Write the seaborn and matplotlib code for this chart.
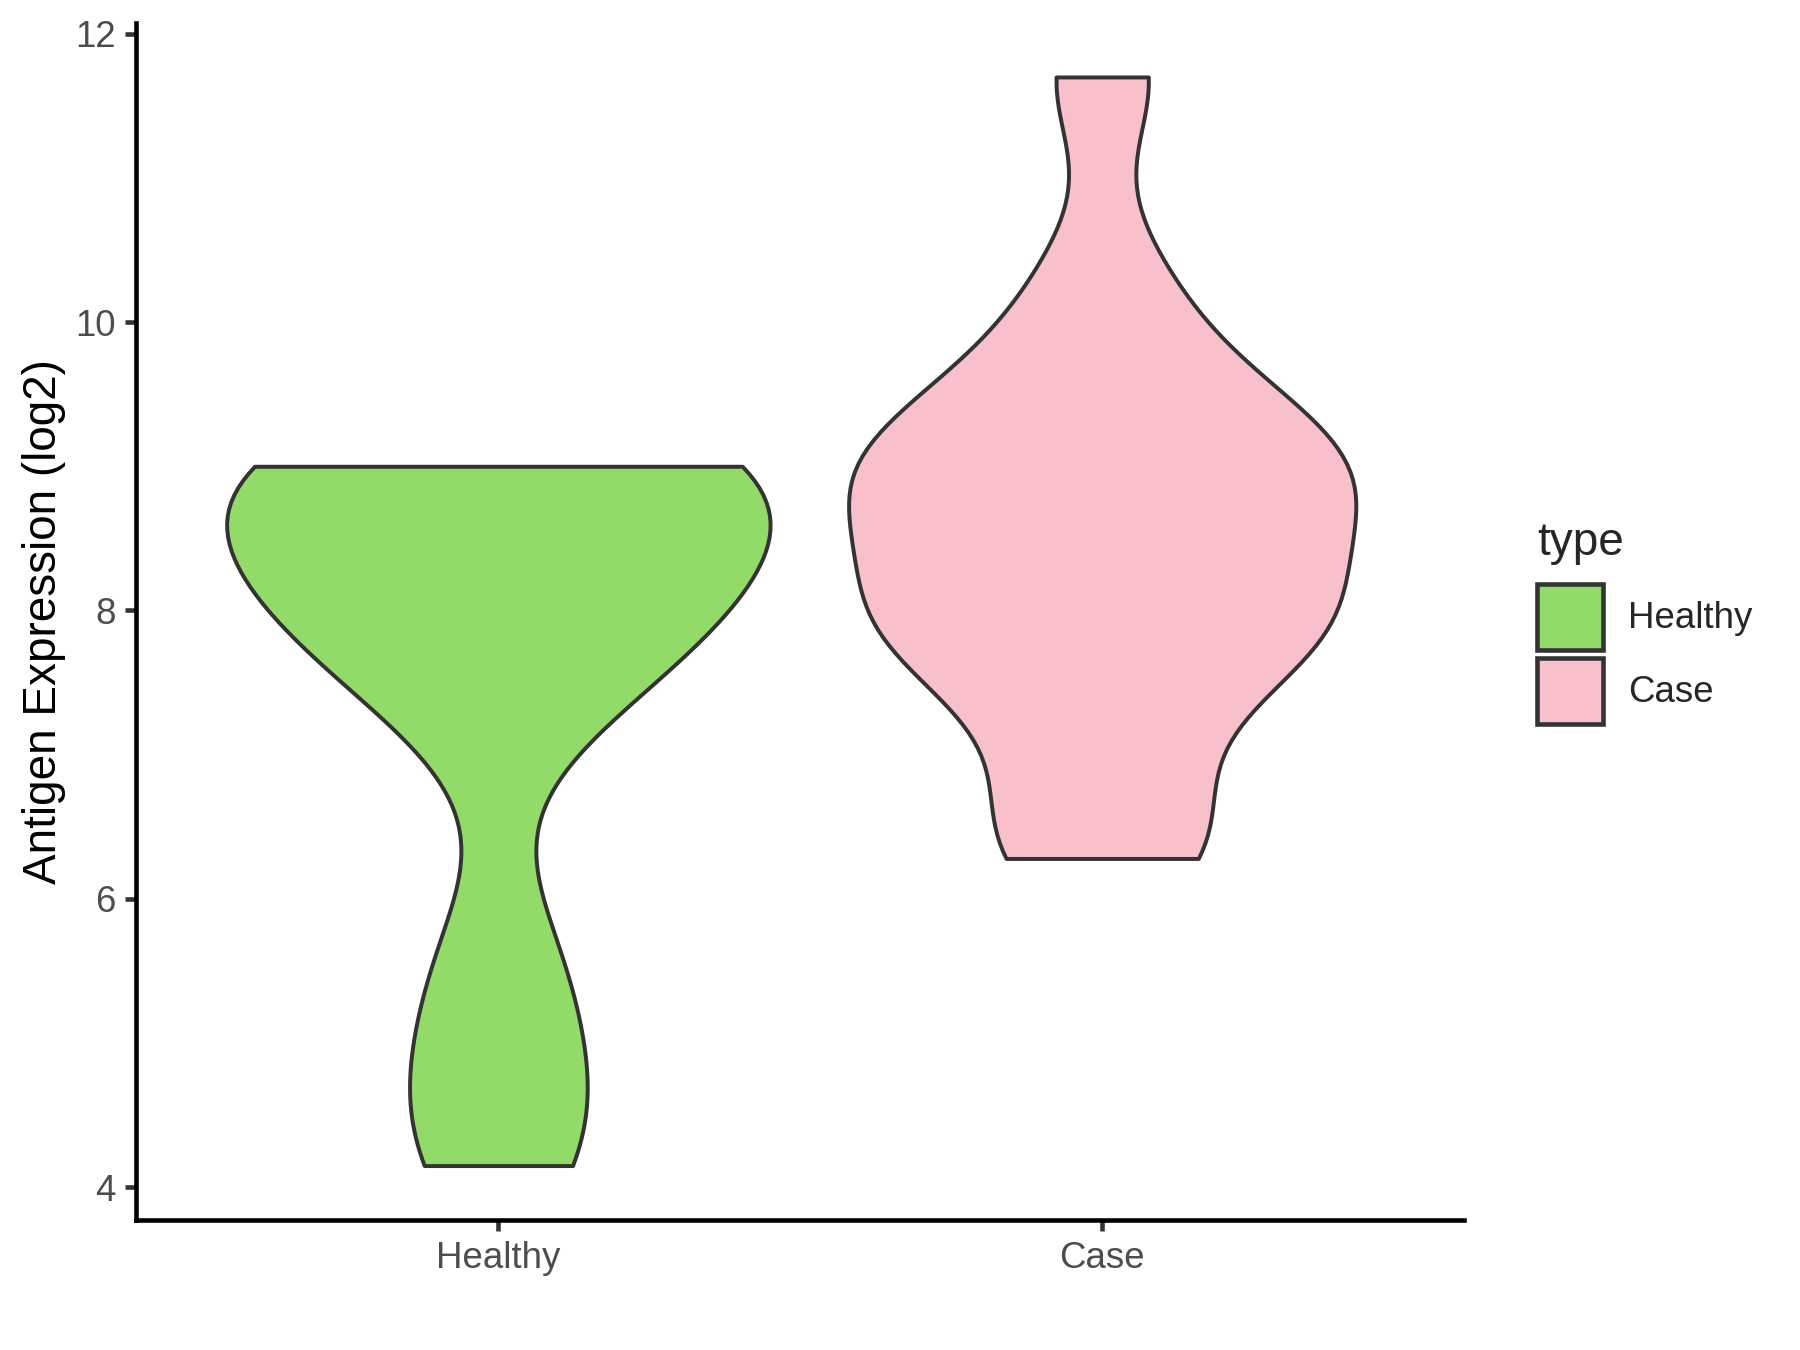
import numpy as np
import pandas as pd
import matplotlib
matplotlib.use("Agg")
import matplotlib.pyplot as plt
import seaborn as sns
from matplotlib.patches import Patch

sns.set_theme(style="white")
plt.rcParams["font.family"] = ["Liberation Sans", "DejaVu Sans"]

# data (sample values estimated from the reference violin outlines)
groups = ["Healthy", "Case"]
healthy_vals = [4.15, 4.74, 5.57, 7.36, 7.80, 7.98, 8.24, 8.48, 8.99, 9.00, 9.00, 9.00]
case_vals = [6.28, 6.49, 7.21, 7.75, 7.81, 7.97, 8.17, 8.58, 8.80, 8.94, 9.02,
             9.36, 9.58, 10.27, 11.70]
colors = {"Healthy": "#93DB69", "Case": "#F8C0CB"}
bandwidths = {"Healthy": 0.62, "Case": 0.50}
max_widths = {"Healthy": 0.9, "Case": 0.84}

df = pd.DataFrame({
    "type": ["Healthy"] * len(healthy_vals) + ["Case"] * len(case_vals),
    "value": healthy_vals + case_vals,
})

fig = plt.figure(figsize=(6, 4.5), dpi=300)
ax = fig.add_axes([0.0756, 0.0963, 0.738, 0.887])

edge = "#333333"
for g in groups:
    sub = df[df["type"] == g]
    x = sub["value"].to_numpy()
    # absolute bandwidth -> seaborn's scott-relative adjust
    adj = bandwidths[g] / (np.std(x, ddof=1) * len(x) ** -0.2)
    sns.violinplot(data=sub, x="type", y="value", hue="type", order=groups,
                   hue_order=groups, palette=colors, cut=0, inner=None,
                   density_norm="width", width=max_widths[g], bw_adjust=adj,
                   linewidth=0.95, linecolor=edge, saturation=1, legend=False, ax=ax)

lo, hi = min(df["value"]), max(df["value"])
pad = (hi - lo) * 0.05
ax.set_ylim(lo - pad, hi + pad)
ax.set_xlim(-0.6, 1.6)
ax.set_yticks([4, 6, 8, 10, 12])

for s in ["top", "right"]:
    ax.spines[s].set_visible(False)
for s in ["left", "bottom"]:
    ax.spines[s].set_color("black")
    ax.spines[s].set_linewidth(1.1)
ax.tick_params(axis="both", length=2.75, width=1.1, color=edge,
               labelsize=8.8, labelcolor="#4D4D4D", pad=2.2,
               bottom=True, left=True)
ax.set_xlabel("")
ax.set_ylabel("Antigen Expression (log2)", fontsize=11, color="black", labelpad=2)

# legend: title placed on its own, keys below
fig.text(1537 / 1800, 1 - 555 / 1350, "type", fontsize=11, va="baseline", ha="left")
handles = [Patch(facecolor=colors[g], edgecolor=edge, linewidth=1.1) for g in groups]
fig.legend(handles, groups, loc="upper left",
           bbox_to_anchor=(1537 / 1800, 1 - 584 / 1350), frameon=False,
           fontsize=8.8, handlelength=1.8, handleheight=2.41,
           labelspacing=0.2, handletextpad=0.68, borderpad=0, borderaxespad=0)

fig.savefig("out.png", dpi=300, facecolor="white")
